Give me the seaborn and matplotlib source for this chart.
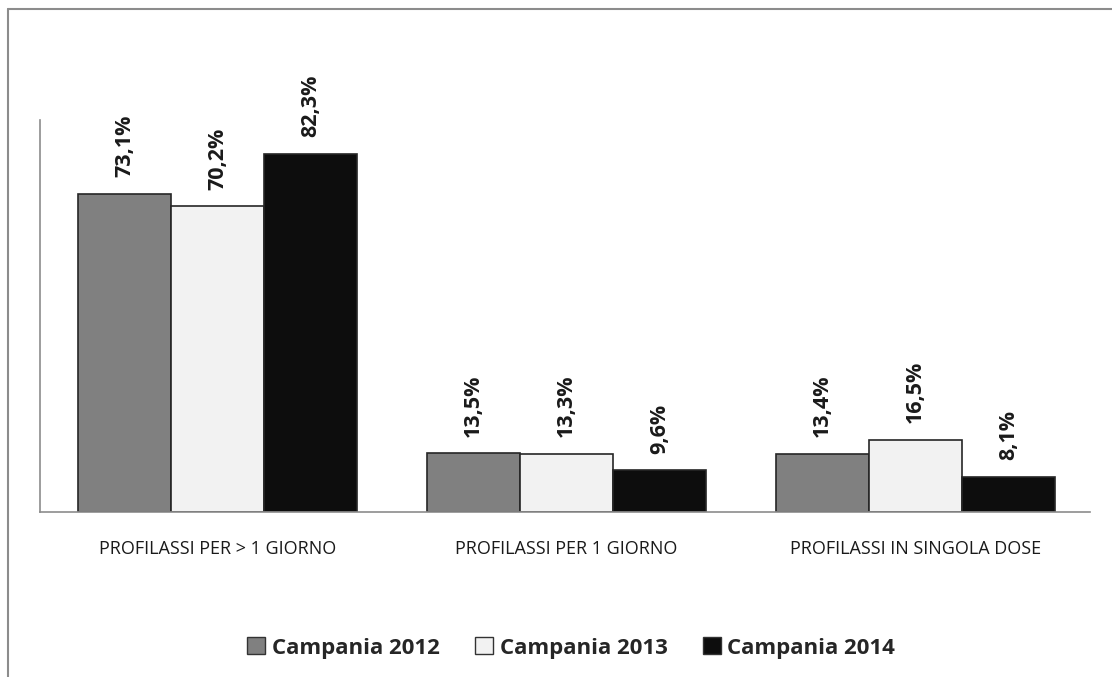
import pandas as pd
import matplotlib
matplotlib.use("Agg")
import matplotlib.pyplot as plt
from matplotlib.lines import Line2D
import seaborn as sns

categories = ["PROFILASSI PER > 1 GIORNO", "PROFILASSI PER 1 GIORNO", "PROFILASSI IN SINGOLA DOSE"]
series = ["Campania 2012", "Campania 2013", "Campania 2014"]
v2012 = [73.1, 13.5, 13.4]
v2013 = [70.2, 13.3, 16.5]
v2014 = [82.3, 9.6, 8.1]
colors = {"Campania 2012": "#808080", "Campania 2013": "#f2f2f2", "Campania 2014": "#0d0d0d"}

df = pd.DataFrame({
    "categoria": categories * 3,
    "serie": [s for s in series for _ in categories],
    "valore": v2012 + v2013 + v2014,
})

sns.set_theme(style="white")
plt.rcParams["font.family"] = ["Open Sans", "DejaVu Sans"]

fig = plt.figure(figsize=(11.12, 6.77), dpi=100)
ax = fig.add_axes([40 / 1112, 165 / 677, 1050 / 1112, 392 / 677])

sns.barplot(data=df, x="categoria", y="valore", hue="serie", hue_order=series,
            palette=colors, edgecolor="#262626", linewidth=1.2, width=0.8,
            saturation=1, ax=ax, legend=True)

for cont in ax.containers:
    labels = [f"{b.get_height():.1f}%".replace(".", ",") for b in cont]
    ax.bar_label(cont, labels=labels, rotation=90, padding=12,
                 fontsize=15.5, fontweight="bold", color="#1a1a1a")

ax.set_xlim(-0.509, 2.5)
ax.set_ylim(0, 90)
ax.set_xlabel("")
ax.set_ylabel("")
ax.set_yticks([])
ax.tick_params(axis="x", length=0, pad=20, labelsize=13, colors="#1a1a1a")
for side in ["top", "right"]:
    ax.spines[side].set_visible(False)
for side in ["left", "bottom"]:
    ax.spines[side].set_color("#8c8c8c")
    ax.spines[side].set_linewidth(1.2)

leg = ax.legend(loc="center", bbox_to_anchor=(0.506, -0.347), ncol=3, frameon=False,
                handlelength=0.8, handleheight=0.8, handletextpad=0.3, columnspacing=1.6,
                prop={"size": 16, "weight": "bold"})
for h in leg.legend_handles:
    h.set_edgecolor("#333333")
    h.set_linewidth(1)

# cornice esterna
fig.add_artist(Line2D([8 / 1112, 8 / 1112], [0, 1 - 9 / 677], color="#8c8c8c", lw=1.5))
fig.add_artist(Line2D([8 / 1112, 1], [1 - 9 / 677, 1 - 9 / 677], color="#8c8c8c", lw=1.5))

fig.savefig("out.png", dpi=100)
